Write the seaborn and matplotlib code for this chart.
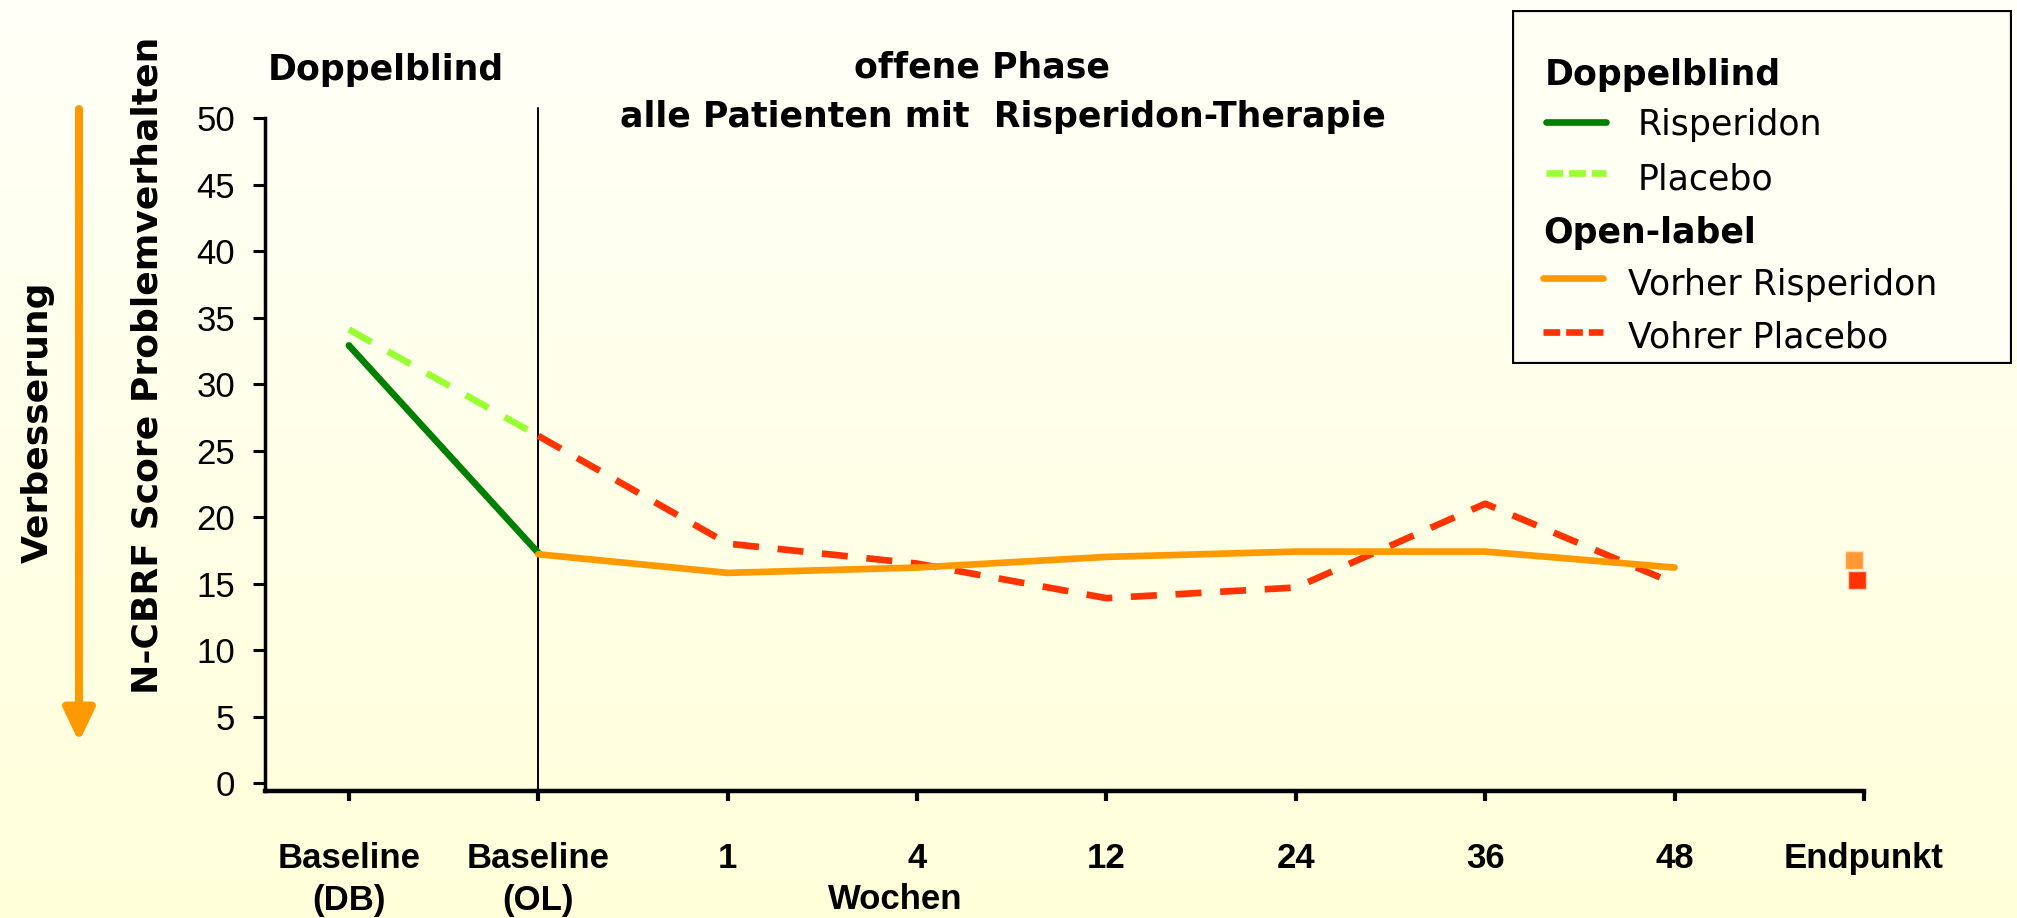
import numpy as np
import matplotlib
matplotlib.use("Agg")
import matplotlib.pyplot as plt
from matplotlib.lines import Line2D
from matplotlib.patches import Rectangle
import seaborn as sns

# categories on the x axis
x_labels = ["Baseline\n(DB)", "Baseline\n(OL)", "1", "4", "12", "24", "36", "48", "Endpunkt"]
db_points = ["Baseline\n(DB)", "Baseline\n(OL)"]
ol_points = ["Baseline\n(OL)", "1", "4", "12", "24", "36", "48"]

# N-CBRF score values
db_risperidon = [32.9, 17.3]
db_placebo = [34.1, 26.1]
ol_vorher_risperidon = [17.2, 15.8, 16.2, 17.0, 17.4, 17.4, 16.2]
ol_vorher_placebo = [26.1, 18.0, 16.5, 13.9, 14.7, 21.0, 15.0]
endpunkt_vorher_risperidon = [16.8]
endpunkt_vorher_placebo = [15.3]
y_ticks = [0, 5, 10, 15, 20, 25, 30, 35, 40, 45, 50]

GREEN = "#008000"
LIGHT_GREEN = "#99FF33"
ORANGE = "#FF9900"
RED = "#FF3300"
ORANGE_SQ = "#FF9933"

W, H = 2017, 918


def fpos(x, y):
    # pixel position -> figure fraction
    return x / W, 1 - y / H


sns.set_style("ticks")
plt.rcParams["font.family"] = ["DejaVu Sans"]
plt.rcParams["text.color"] = "black"
plt.rcParams["xtick.color"] = "black"
plt.rcParams["ytick.color"] = "black"
plt.rcParams["xtick.labelcolor"] = "black"
plt.rcParams["ytick.labelcolor"] = "black"

fig = plt.figure(figsize=(W / 100, H / 100), dpi=100)

# background gradient
bg = fig.add_axes([0, 0, 1, 1], zorder=-10)
grad = np.linspace(0, 1, 256)[:, None, None]
top = np.array([255, 255, 248]) / 255
bottom = np.array([255, 255, 218]) / 255
bg.imshow(top + (bottom - top) * grad, aspect="auto", extent=[0, 1, 0, 1])
bg.set_xlim(0, 1)
bg.set_ylim(0, 1)
bg.axis("off")

# main axes
ax = fig.add_axes([265 / W, 1 - 791 / H, (1864 - 265) / W, (791 - 118) / H])
ax.patch.set_alpha(0)

xpos = {lab: i for i, lab in enumerate(x_labels)}
dash = (0, (3.9, 2.8))
lw = 4.8

sns.lineplot(x=[xpos[p] for p in db_points], y=db_risperidon, color=GREEN, linewidth=lw, ax=ax)
sns.lineplot(x=[xpos[p] for p in db_points], y=db_placebo, color=LIGHT_GREEN, linewidth=lw,
             linestyle=dash, ax=ax)
sns.lineplot(x=[xpos[p] for p in ol_points], y=ol_vorher_placebo, color=RED, linewidth=lw,
             linestyle=dash, ax=ax)
sns.lineplot(x=[xpos[p] for p in ol_points], y=ol_vorher_risperidon, color=ORANGE, linewidth=lw, ax=ax)

end_x = xpos["Endpunkt"]
sns.scatterplot(x=[end_x - 0.053], y=endpunkt_vorher_risperidon, marker="s", s=185,
                color=ORANGE_SQ, edgecolor="#FFE2C4", linewidth=1, ax=ax, clip_on=False, zorder=5)
sns.scatterplot(x=[end_x - 0.037], y=endpunkt_vorher_placebo, marker="s", s=185,
                color=RED, edgecolor="#FFD0C0", linewidth=1, ax=ax, clip_on=False, zorder=6)

# separator between double blind and open phase
ax.axvline(xpos["Baseline\n(OL)"], ymin=0, ymax=1.015, color="black", lw=1.4, clip_on=False, zorder=1)

ax.set_xlim(-0.443, 8.0)
ax.set_ylim(-0.6, 50)
ax.set_xticks(range(len(x_labels)))
ax.set_xticklabels(x_labels, fontfamily="Liberation Sans", fontweight="bold", fontsize=25)
for lab in ax.get_xticklabels():
    lab.set_linespacing(1.32)
ax.set_yticks(y_ticks)
ax.set_yticklabels([str(v) for v in y_ticks], fontfamily="Liberation Sans", fontsize=25)
ax.tick_params(axis="x", length=7, width=3, pad=30, colors="black")
ax.tick_params(axis="y", length=9, width=2.2, pad=12.5, colors="black")
sns.despine(ax=ax)
ax.spines["left"].set_linewidth(2.5)
ax.spines["bottom"].set_linewidth(3.2)
ax.spines["left"].set_color("black")
ax.spines["bottom"].set_color("black")
ax.set_xlabel("")
ax.set_ylabel("")

# phase headers
fig.text(*fpos(386, 80), "Doppelblind", ha="center", va="baseline", fontsize=25, fontweight="bold")
fig.text(*fpos(982, 77), "offene Phase", ha="center", va="baseline", fontsize=25, fontweight="bold")
fig.text(*fpos(1003, 127), "alle Patienten mit  Risperidon-Therapie", ha="center", va="baseline",
         fontsize=25, fontweight="bold")
fig.text(*fpos(895, 909), "Wochen", ha="center", va="baseline", fontsize=25, fontweight="bold",
         fontfamily="Liberation Sans")

# axis titles
fig.text(*fpos(147, 365), "N-CBRF Score Problemverhalten", rotation=90, ha="center", va="center",
         fontsize=26, fontweight="bold")
fig.text(*fpos(38, 422), "Verbesserung", rotation=90, ha="center", va="center",
         fontsize=26, fontweight="bold")
bg.annotate("", xy=fpos(79, 742), xytext=fpos(79, 109), xycoords="axes fraction",
            arrowprops=dict(arrowstyle="-|>,head_length=0.65,head_width=0.31", color=ORANGE,
                            lw=5.8, mutation_scale=30, shrinkA=0, shrinkB=0))

# legend box
lg = fig.add_axes([1512 / W, 1 - 364 / H, 500 / W, 354 / H])
lg.set_xlim(0, 500)
lg.set_ylim(354, 0)
lg.axis("off")
lg.add_patch(Rectangle((1, 1), 498, 352, facecolor="#FFFFF4", edgecolor="black", lw=1.6))
lg.text(33, 75, "Doppelblind", fontsize=25, fontweight="bold", va="baseline")
lg.add_line(Line2D([34, 94], [112, 112], color=GREEN, lw=lw))
lg.text(126, 125, "Risperidon", fontsize=25, va="baseline")
lg.add_line(Line2D([34, 94], [163, 163], color=LIGHT_GREEN, lw=lw, linestyle=(0, (2.5, 0.9))))
lg.text(126, 180, "Placebo", fontsize=25, va="baseline")
lg.text(31, 233, "Open-label", fontsize=25, fontweight="bold", va="baseline")
lg.add_line(Line2D([31, 91], [268, 268], color=ORANGE, lw=lw))
lg.text(116, 285, "Vorher Risperidon", fontsize=25, va="baseline")
lg.add_line(Line2D([31, 91], [322, 322], color=RED, lw=lw, linestyle=(0, (2.5, 0.9))))
lg.text(116, 338, "Vohrer Placebo", fontsize=25, va="baseline")

fig.savefig("out.png", dpi=100)
